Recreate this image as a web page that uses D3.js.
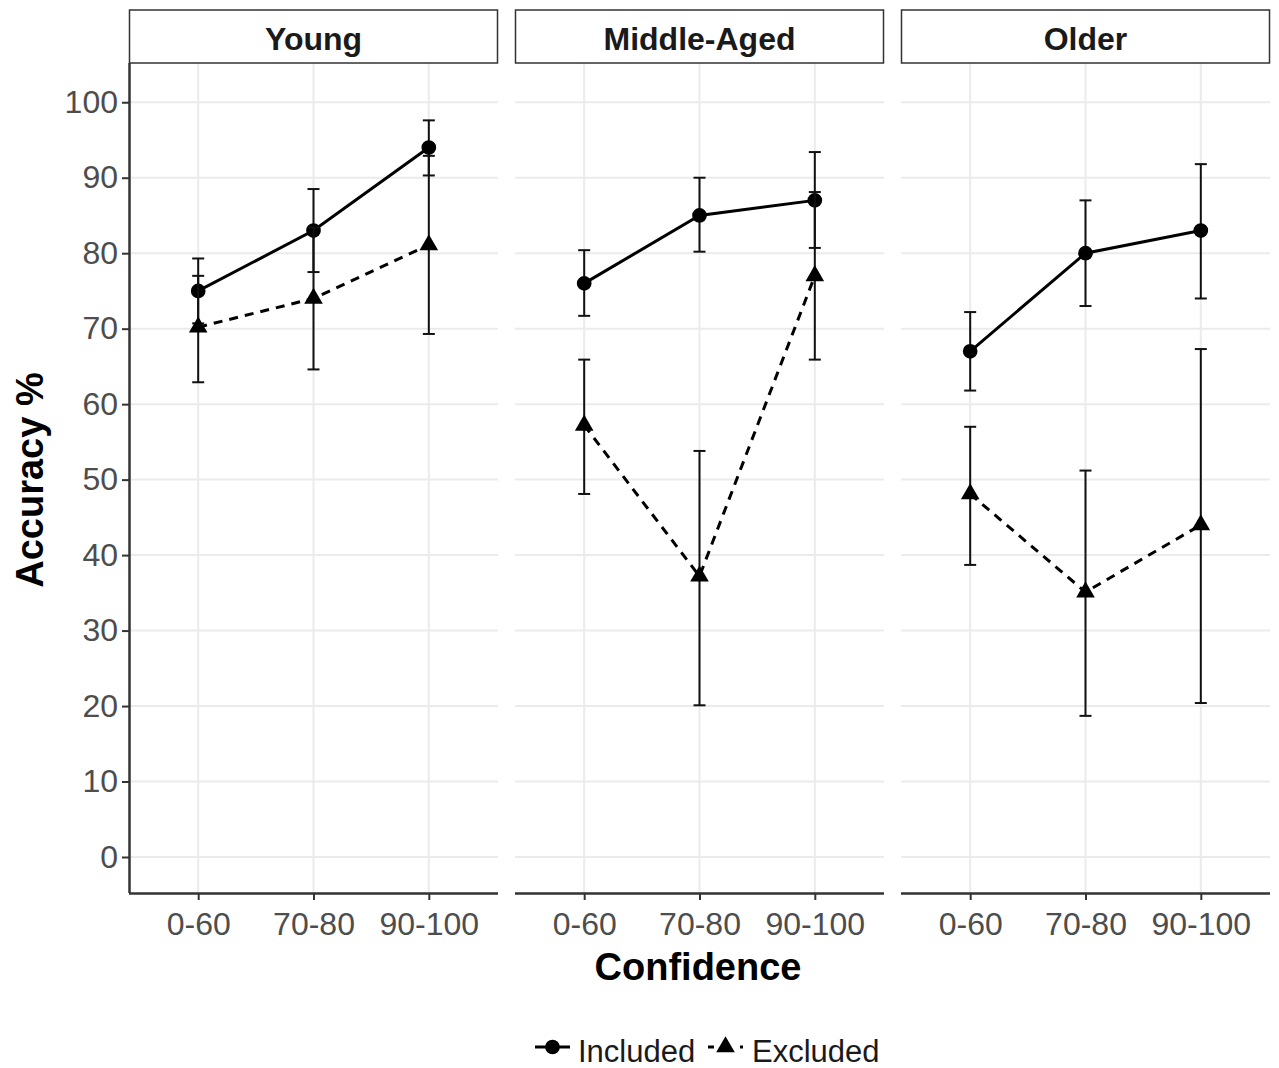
<!DOCTYPE html>
<html>
<head>
<meta charset="utf-8">
<script src="https://cdn.jsdelivr.net/npm/d3@7"></script>
<style>
  body { margin: 0; background: #fff; }
  svg { display: block; font-family: "Liberation Sans", Arial, sans-serif; }
</style>
</head>
<body>
<svg id="drawing_region"></svg>
<script>
// data
const groups = ["Young", "Middle-Aged", "Older"];
const confidence = ["0-60", "70-80", "90-100"];
const yTicks = [0, 10, 20, 30, 40, 50, 60, 70, 80, 90, 100];
const series = ["Included", "Excluded"];

const includedMean  = [[75, 83, 94],       [76, 85, 87],     [67, 80, 83]];
const includedLow   = [[70.7, 77.5, 90.3], [71.7, 80.2, 80.7], [61.8, 73, 74]];
const includedHigh  = [[79.3, 88.5, 97.6], [80.4, 90, 93.4], [72.2, 87, 91.8]];
const excludedMean  = [[70.2, 74, 81.1],   [57.2, 37.2, 77], [48.1, 35.1, 44]];
const excludedLow   = [[62.9, 64.6, 69.3], [48.1, 20.1, 65.9], [38.7, 18.7, 20.4]];
const excludedHigh  = [[77, 83.4, 92.9],   [65.9, 53.8, 88.1], [57, 51.2, 67.3]];

const config = {
    width: 1279,
    height: 1068,
    panelLeft: [129, 515, 901],
    panelWidth: 369,
    top: 63,
    bottom: 893,
    stripTop: 10
};

const svg = d3.select('#drawing_region')
    .attr('width', config.width)
    .attr('height', config.height);

const yscale = d3.scaleLinear()
    .domain([-4.77, 105.2])
    .range([config.bottom, config.top]);

const symCircle = d3.symbol().type(d3.symbolCircle).size(170);
const symTri = d3.symbol().type(d3.symbolTriangle).size(150);

groups.forEach((g, gi) => {
    const x0 = config.panelLeft[gi];
    const xscale = d3.scalePoint()
        .domain(confidence)
        .range([x0, x0 + config.panelWidth])
        .padding(0.6);

    const panel = svg.append('g');

    // grid
    panel.selectAll('.hgrid')
        .data(yTicks)
        .enter()
        .append('line')
        .attr('x1', x0).attr('x2', x0 + config.panelWidth)
        .attr('y1', d => yscale(d)).attr('y2', d => yscale(d))
        .attr('stroke', '#ebebeb').attr('stroke-width', 2);
    panel.selectAll('.vgrid')
        .data(confidence)
        .enter()
        .append('line')
        .attr('x1', d => xscale(d)).attr('x2', d => xscale(d))
        .attr('y1', config.top).attr('y2', config.bottom)
        .attr('stroke', '#ebebeb').attr('stroke-width', 2);

    // strip
    panel.append('rect')
        .attr('x', x0 + 0.5).attr('y', config.stripTop)
        .attr('width', config.panelWidth - 1).attr('height', config.top - config.stripTop)
        .attr('fill', '#fff').attr('stroke', '#333').attr('stroke-width', 1.5);
    panel.append('text')
        .attr('x', x0 + config.panelWidth / 2)
        .attr('y', (config.stripTop + config.top) / 2 + 13)
        .attr('text-anchor', 'middle')
        .attr('font-size', 32).attr('font-weight', 'bold')
        .attr('fill', '#1a1a1a')
        .text(g);

    // x axis
    const xaxis = d3.axisBottom(xscale).tickSize(7).tickPadding(12);
    const xg = panel.append('g')
        .attr('transform', `translate(0, ${config.bottom})`)
        .call(xaxis);
    xg.select('.domain').attr('stroke', '#333').attr('stroke-width', 2.5)
        .attr('d', `M${x0},0.5H${x0 + config.panelWidth}`);
    xg.selectAll('.tick line').attr('stroke', '#333').attr('stroke-width', 2);
    xg.selectAll('.tick text').attr('font-size', 32).attr('fill', '#4d4d4d')
        .attr('font-family', '"Liberation Sans", Arial, sans-serif');

    if (gi === 0) {
        const yaxis = d3.axisLeft(yscale).tickValues(yTicks).tickSize(7).tickPadding(4);
        const yg = panel.append('g')
            .attr('transform', `translate(${x0}, 0)`)
            .call(yaxis);
        yg.select('.domain').attr('stroke', '#333').attr('stroke-width', 2.5)
            .attr('d', `M0.5,${config.top}V${config.bottom}`);
        yg.selectAll('.tick line').attr('stroke', '#333').attr('stroke-width', 2);
        yg.selectAll('.tick text').attr('font-size', 32).attr('fill', '#4d4d4d')
            .attr('font-family', '"Liberation Sans", Arial, sans-serif');
    }

    const sets = [
        { mean: includedMean[gi], lo: includedLow[gi], hi: includedHigh[gi], dash: null, sym: symCircle },
        { mean: excludedMean[gi], lo: excludedLow[gi], hi: excludedHigh[gi], dash: '9,7', sym: symTri }
    ];

    sets.forEach(s => {
        const pts = confidence.map((c, i) => ({ c: c, m: s.mean[i], lo: s.lo[i], hi: s.hi[i] }));
        // error bars
        const eb = panel.selectAll(null).data(pts).enter().append('g')
            .attr('stroke', '#111').attr('stroke-width', 2);
        eb.append('line')
            .attr('x1', d => xscale(d.c)).attr('x2', d => xscale(d.c))
            .attr('y1', d => yscale(d.lo)).attr('y2', d => yscale(d.hi));
        eb.append('line')
            .attr('x1', d => xscale(d.c) - 6).attr('x2', d => xscale(d.c) + 6)
            .attr('y1', d => yscale(d.lo)).attr('y2', d => yscale(d.lo));
        eb.append('line')
            .attr('x1', d => xscale(d.c) - 6).attr('x2', d => xscale(d.c) + 6)
            .attr('y1', d => yscale(d.hi)).attr('y2', d => yscale(d.hi));

        const line = d3.line().x(d => xscale(d.c)).y(d => yscale(d.m));
        panel.append('path')
            .datum(pts)
            .attr('d', line)
            .attr('fill', 'none').attr('stroke', '#000').attr('stroke-width', 3)
            .attr('stroke-dasharray', s.dash);

        panel.selectAll(null).data(pts).enter().append('path')
            .attr('d', s.sym)
            .attr('transform', d => `translate(${xscale(d.c)}, ${yscale(d.m)})`)
            .attr('fill', '#000');
    });
});

// axis titles
svg.append('text')
    .attr('x', 698)
    .attr('y', 980)
    .attr('text-anchor', 'middle')
    .attr('font-size', 38).attr('font-weight', 'bold')
    .text('Confidence');
svg.append('text')
    .attr('transform', `translate(43, 480) rotate(-90)`)
    .attr('text-anchor', 'middle')
    .attr('font-size', 38).attr('font-weight', 'bold')
    .text('Accuracy %');

// legend
const legendX = [535, 708];
const legendTextX = [578, 752];
const legend = svg.append('g');
series.forEach((s, i) => {
    const lx = legendX[i];
    legend.append('line')
        .attr('x1', lx).attr('x2', lx + 35)
        .attr('y1', 1047).attr('y2', 1047)
        .attr('stroke', '#000').attr('stroke-width', 3)
        .attr('stroke-dasharray', i === 0 ? null : '6,10');
    legend.append('path')
        .attr('d', i === 0 ? symCircle() : symTri())
        .attr('transform', `translate(${lx + 17.5}, 1047)`)
        .attr('fill', '#000');
    legend.append('text')
        .attr('x', legendTextX[i]).attr('y', 1062)
        .attr('font-size', 31).attr('fill', '#1a1a1a')
        .text(s);
});
</script>
</body>
</html>
